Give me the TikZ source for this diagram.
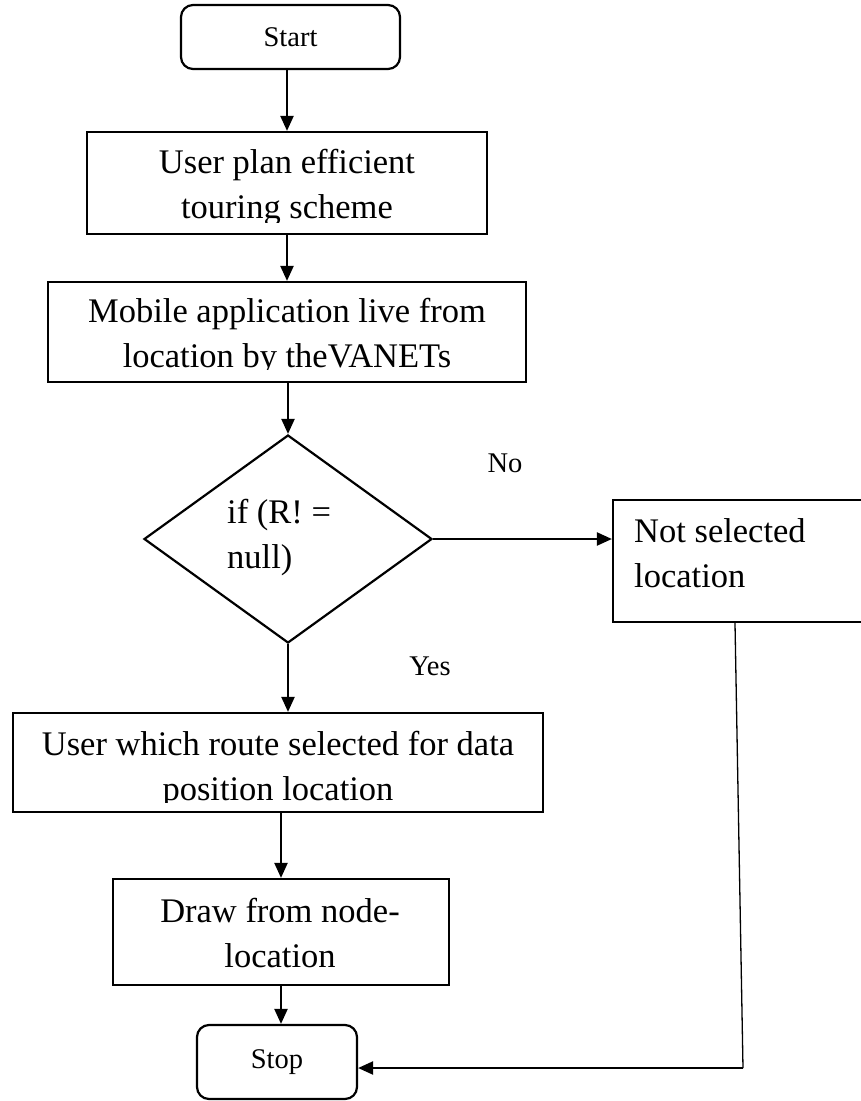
\documentclass[tikz,border=0pt]{standalone}
\usepackage{fontspec}
\setmainfont{Liberation Serif}
\usepackage{tikz}
\usetikzlibrary{arrows.meta,positioning,calc,shapes.geometric}
\tikzstyle{procbox}=[draw,line width=2.2pt,inner sep=0pt]
\tikzstyle{termbox}=[draw,line width=2.2pt,rounded corners=12pt,inner sep=0pt,font=\fontsize{28.5}{34}\selectfont]
\tikzstyle{decbox}=[draw,diamond,line width=2.2pt,inner sep=0pt,minimum width=288pt,minimum height=208pt]
\tikzstyle{bigtext}=[font=\fontsize{34.5}{45}\selectfont,align=center,anchor=base,inner sep=0pt]
\tikzstyle{smalltext}=[font=\fontsize{28.5}{34}\selectfont,anchor=base,inner sep=0pt]
\tikzstyle{flow}=[line width=2.2pt,-{Triangle[length=15pt,width=13pt]}]

\begin{document}
\begin{tikzpicture}[x=1pt,y=-1pt]
    \useasboundingbox (0,0) rectangle (860,1101);
    % boxes
    \node [termbox,minimum width=219pt,minimum height=64pt] (start) at (290.5,37) {Start};
    \node [procbox,minimum width=400pt,minimum height=102pt] (plan) at (287,183) {};
    \node [procbox,minimum width=478pt,minimum height=100pt] (mobile) at (287,332) {};
    \node [decbox] (dec) at (288,539) {};
    \node [procbox,minimum width=250pt,minimum height=122pt] (notsel) at (738,561) {};
    \node [procbox,minimum width=530pt,minimum height=99pt] (route) at (278,762.5) {};
    \node [procbox,minimum width=336pt,minimum height=106pt] (drawloc) at (281,932) {};
    \node [termbox,minimum width=160pt,minimum height=74pt] (stop) at (277,1062) {Stop};
    % texts (anchored at the last baseline)
    \begin{scope}
      \clip (plan.north west) rectangle ([yshift=13pt]plan.south east);
      \node [bigtext] (plantext) at (287,218) {User plan efficient\\touring scheme};
    \end{scope}
    \begin{scope}
      \clip (mobile.north west) rectangle ([yshift=14pt]mobile.south east);
      \node [bigtext] (mobiletext) at (287,367) {Mobile application live from\\location by theVANETs};
    \end{scope}
    \begin{scope}
      \clip (route.north west) rectangle ([yshift=11pt]route.south east);
      \node [bigtext] (routetext) at (278,800) {User which route selected for data\\position location};
    \end{scope}
    \node [bigtext] (drawtext) at (280,967) {Draw from node-\\location};
    \node [bigtext,align=left,anchor=base west] (dectext) at (227,568) {if (R! =\\null)};
    \node [bigtext,align=left,anchor=base west] (notseltext) at (634,587) {Not selected\\location};
    \node [smalltext] (nolabel) at (505,472) {No};
    \node [smalltext] (yeslabel) at (430,675) {Yes};
    % connectors
    \draw [flow] (plan.north |- start.south) -- (plan.north);
    \draw [flow] (plan.south) -- (mobile.north);
    \draw [flow] (dec.north |- mobile.south) -- (dec.north);
    \draw [flow] (dec.east) -- (dec.east -| notsel.west);
    \draw [flow] (dec.south) -- (dec.south |- route.north);
    \draw [flow] (drawloc.north |- route.south) -- (drawloc.north);
    \draw [flow] (drawloc.south) -- (drawloc.south |- stop.north);
    \coordinate (turn) at (743,1068);
    \draw [line width=1.3pt] ([xshift=-3pt]notsel.south) -- (turn);
    \draw [flow] (turn) -- (turn -| stop.east);
\end{tikzpicture}
\end{document}
